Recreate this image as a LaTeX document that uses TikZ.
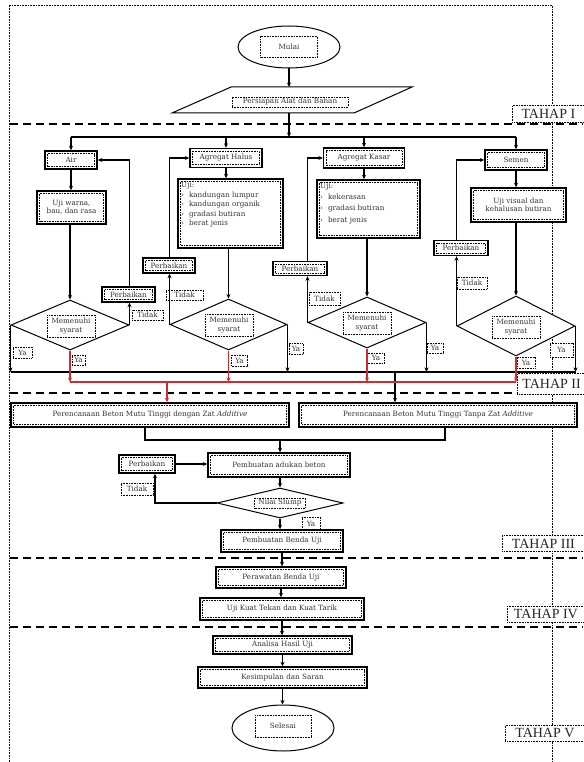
\documentclass[tikz,border=0pt]{standalone}
\usepackage{fontspec}
\setmainfont{Liberation Serif}
\newfontfamily\tf{DejaVu Serif}
\usetikzlibrary{shapes.geometric,arrows.meta,backgrounds}
\definecolor{myred}{RGB}{205,45,45}
\begin{document}
\begin{tikzpicture}[x=1pt,y=-1pt,
  dotl/.style={dash pattern=on 0.8pt off 0.8pt, line width=0.8pt},
  txt/.style={font=\tf\fontsize{7.2}{8.6}\selectfont, text=black!80},
  sz/.style 2 args={minimum width=#1, minimum height=#2},
  proc/.style={draw, line width=1.4pt, fill=white, inner sep=0pt, txt, align=center,
     path picture={\draw[dotl] ([shift={(2.6pt,-2.6pt)}]path picture bounding box.north west) rectangle ([shift={(-2.6pt,2.6pt)}]path picture bounding box.south east);}},
  lbl/.style={draw, dotl, fill=white, inner sep=0pt, txt, align=center},
  dec/.style={diamond, draw, line width=1pt, fill=white, inner sep=0pt},
  term/.style={ellipse, draw, line width=1pt, fill=white, inner sep=0pt},
  tahap/.style={draw, dotl, fill=white, anchor=north west, inner xsep=5pt, inner ysep=0pt, align=left, font=\fontsize{14}{14}\selectfont, text=black!85},
  conn/.style={line width=1.1pt, -{Stealth[length=4.5pt,width=4pt]}},
  wire/.style={line width=1.1pt},
  sepline/.style={line width=1.6pt, dash pattern=on 8pt off 5pt},
]
\useasboundingbox (0,0) rectangle (583,762);

% ---------- terminals and input ----------
\node[term, sz={102}{42}] (mulai) at (289,47) {};
\node[lbl, sz={57}{21}] (mulaiT) at (289,47) {Mulai};

\coordinate (pTL) at (231,87);
\coordinate (pTR) at (412,87);
\coordinate (pBR) at (354,113);
\coordinate (pBL) at (172,113);
\draw[line width=1pt, fill=white] (pTL) -- (pTR) -- (pBR) -- (pBL) -- cycle;
\node[lbl, sz={116}{10}] (bahan) at (290,102) {Persiapan Alat dan Bahan};
\coordinate (ptop) at (289,87);
\coordinate (pbot) at (289,113);

% ---------- stage II material boxes ----------
\node[proc, sz={52}{18}] (air) at (71,160) {Air};
\node[proc, sz={72}{19}] (halus) at (226,158) {Agregat Halus};
\node[proc, sz={81}{20}] (kasar) at (364,158) {Agregat Kasar};
\node[proc, sz={62}{20}] (semen) at (516,160) {Semen};

\node[proc, sz={69}{33}] (ujiair) at (71.5,207.5) {Uji warna,\\bau, dan rasa};
\node[proc, sz={105}{69}] (lhalus) at (230.5,213.5) {};
\node[txt, anchor=north west, inner sep=0pt] (lhalusT) at (181,181)
  {\fontsize{7.2}{9.5}\selectfont\begin{tabular}{@{}l@{\hspace{5pt}}l@{}}\multicolumn{2}{@{}l@{}}{Uji:}\\ › & kandungan lumpur\\ › & kandungan organik\\ › & gradasi butiran\\ › & berat jenis\end{tabular}};
\node[proc, sz={103}{58}] (lkasar) at (368.5,209) {};
\node[txt, anchor=north west, inner sep=0pt] (lkasarT) at (320,180)
  {\fontsize{7.2}{11.3}\selectfont\begin{tabular}{@{}l@{\hspace{5pt}}l@{}}\multicolumn{2}{@{}l@{}}{Uji:}\\ › & kekerasan\\ › & gradasi butiran\\ › & berat jenis\end{tabular}};
\node[proc, sz={95}{34}] (usemen) at (518.5,205) {Uji visual dan\\kehalusan butiran};

% decisions
\node[dec, sz={118}{50}] (dair) at (70,325) {};
\node[dec, sz={117}{51}] (dhalus) at (228.5,324.5) {};
\node[dec, sz={118}{51}] (dkasar) at (367,322.5) {};
\node[dec, sz={118}{60}] (dsemen) at (516,326) {};
\node[lbl, sz={48}{22}] (dairT) at (71,326) {Memenuhi\\syarat};
\node[lbl, sz={48}{22}] (dhalusT) at (229,325) {Memenuhi\\syarat};
\node[lbl, sz={48}{22}] (dkasarT) at (367,323) {Memenuhi\\syarat};
\node[lbl, sz={48}{22}] (dsemenT) at (516,327) {Memenuhi\\syarat};

% repair boxes
\node[proc, sz={53}{15}] (pair) at (128.5,294.5) {Perbaikan};
\node[proc, sz={52}{15}] (phalus) at (169,265.5) {Perbaikan};
\node[proc, sz={54}{14}] (pkasar) at (300,268.5) {Perbaikan};
\node[proc, sz={54}{15}] (psemen) at (461,248) {Perbaikan};

% Tidak / Ya labels
\node[lbl, sz={31}{10}] (tair) at (147.5,315) {Tidak};
\node[lbl, sz={37}{10}] (thalus) at (184.5,295) {Tidak};
\node[lbl, sz={31}{13}] (tkasar) at (324.5,298.5) {Tidak};
\node[lbl, sz={30}{12}] (tsemen) at (472,283) {Tidak};
\node[lbl, sz={19}{11}] (yair1) at (22.5,352.5) {Ya};
\node[lbl, sz={13}{10}] (yair2) at (78.5,360) {Ya};
\node[lbl, sz={14}{11}] (yhalus1) at (296,349) {Ya};
\node[lbl, sz={16}{11}] (yhalus2) at (239.5,360.5) {Ya};
\node[lbl, sz={16}{10}] (ykasar1) at (435,348) {Ya};
\node[lbl, sz={17}{10}] (ykasar2) at (376,358) {Ya};
\node[lbl, sz={23}{14}] (ysemen1) at (561.5,350) {Ya};
\node[lbl, sz={18}{11}] (ysemen2) at (526,362.5) {Ya};

% ---------- stage III ----------
\node[proc, sz={278}{24}] (dengan) at (150,415) {Perencanaan Beton Mutu Tinggi dengan Zat \textit{Additive}};
\node[proc, sz={278}{24}] (tanpa) at (438,415) {Perencanaan Beton Mutu Tinggi Tanpa Zat \textit{Additive}};
\node[proc, sz={142}{24}] (adukan) at (279,465) {Pembuatan adukan beton};
\node[proc, sz={56}{18}] (padukan) at (147,464) {Perbaikan};
\node[dec, sz={126}{30}] (slump) at (280,503) {};
\node[lbl, sz={51}{10}] (slumpT) at (280,503) {Nilai Slump};
\node[lbl, sz={32}{12}] (tslump) at (137,489) {Tidak};
\node[lbl, sz={18}{13}] (yslump) at (311,523.5) {Ya};
\node[proc, sz={122}{22}] (benda) at (282,541) {Pembuatan Benda Uji};

% ---------- stage IV / V ----------
\node[proc, sz={130}{21}] (rawat) at (281,577.5) {Perawatan Benda Uji};
\node[proc, sz={164}{22}] (kuat) at (282,609) {Uji Kuat Tekan dan Kuat Tarik};
\node[proc, sz={139}{18}] (analisa) at (282.5,645) {Analisa Hasil Uji};
\node[proc, sz={169}{21}] (kesim) at (282.5,677.5) {Kesimpulan dan Saran};
\node[term, sz={102}{46}] (selesai) at (283,728) {};
\node[lbl, sz={56}{22}] (selesaiT) at (283,726) {Selesai};

% ---------- stage labels ----------
\node[tahap, sz={72}{17}] (t1) at (512,105) {TAHAP I};
\node[tahap, sz={67}{21}] (t2) at (517,373) {TAHAP II};
\node[tahap, sz={82}{16}] (t3) at (502,535) {TAHAP III};
\node[tahap, sz={77}{16}] (t4) at (507,606) {TAHAP IV};
\node[tahap, sz={79}{16}] (t5) at (505,725) {TAHAP V};

% ---------- connectors ----------
\draw[conn] (mulai.south) -- (ptop);
\coordinate (br) at (289,137);
\coordinate (brA) at (71,137);
\coordinate (brS) at (516,137);
\draw[conn] (pbot) -- (br);
\draw[wire] (brA) -- (brS);
\draw[conn] (brA) -- (air.north);
\draw[conn] (halus.north |- br) -- (halus.north);
\draw[conn] (kasar.north |- br) -- (kasar.north);
\draw[conn] (brS) -- (semen.north);

\draw[conn] (air.south) -- (air.south |- ujiair.north);
\draw[conn] (halus.south) -- (halus.south |- lhalus.north);
\draw[conn] (kasar.south) -- (kasar.south |- lkasar.north);
\draw[conn] (semen.south) -- (semen.south |- usemen.north);

\draw[conn] (dair.north |- ujiair.south) -- (dair.north);
\draw[conn] (dhalus.north |- lhalus.south) -- (dhalus.north);
\draw[conn] (dkasar.north |- lkasar.south) -- (dkasar.north);
\draw[conn] (dsemen.north |- usemen.south) -- (dsemen.north);

% Tidak loops
\draw[conn] (dair.east) -- (dair.east |- pair.south);
\draw[conn] (dair.east |- pair.north) |- (air.east);
\draw[conn] (dhalus.west) -- (dhalus.west |- phalus.south);
\draw[conn] (dhalus.west |- phalus.north) |- (halus.west);
\draw[conn] (dkasar.west) -- (dkasar.west |- pkasar.south);
\draw[conn] (dkasar.west |- pkasar.north) |- (kasar.west);
\draw[conn] (dsemen.west) -- (dsemen.west |- psemen.south);
\draw[conn] (dsemen.west |- psemen.north) |- (semen.west);

% black collector (side Ya)
\coordinate (blk) at (0,372);
\coordinate (blkR) at (395,372);
\draw[conn] (dair.west) -- (dair.west |- blk);
\draw[conn] (dhalus.east) -- (dhalus.east |- blk);
\draw[conn] (dkasar.east) -- (dkasar.east |- blk);
\draw[conn] (dsemen.east) -- (dsemen.east |- blk);
\draw[wire] (dair.west |- blk) -- (dsemen.east |- blk);
\draw[conn] (blkR) -- (blkR |- tanpa.north);

% red collector (bottom Ya)
\coordinate (rd) at (0,382);
\coordinate (rdL) at (167,382);
\draw[conn, myred] (dair.south) -- (dair.south |- rd);
\draw[conn, myred] (dhalus.south) -- (dhalus.south |- rd);
\draw[conn, myred] (dkasar.south) -- (dkasar.south |- rd);
\draw[conn, myred] (dsemen.south) -- (dsemen.south |- rd);
\draw[wire, myred] (dair.south |- rd) -- (dsemen.south |- rd);
\draw[conn, myred] (rdL) -- (rdL |- dengan.north);

% merge
\coordinate (mgL) at (145,440);
\coordinate (mgR) at (445,440);
\coordinate (mg) at (280,440);
\draw[wire] (mgL |- dengan.south) -- (mgL) -- (mgR) -- (mgR |- tanpa.south);
\draw[conn] (mg) -- (mg |- adukan.north);
\draw[conn] (padukan.east) -- (padukan.east -| adukan.west);
\draw[conn] (slump.north |- adukan.south) -- (slump.north);
\coordinate (tk) at (155,503);
\draw[conn] (slump.west) -- (tk) -- (tk |- padukan.south);
\draw[conn] (slump.south) -- (slump.south |- benda.north);
\draw[conn] (benda.south) -- (benda.south |- rawat.north);
\draw[conn] (rawat.south) -- (rawat.south |- kuat.north);
\draw[conn] (kuat.south) -- (kuat.south |- analisa.north);
\draw[conn] (analisa.south) -- (analisa.south |- kesim.north);
\draw[conn] (kesim.south) -- (kesim.south |- selesai.north);

% ---------- background: frame and stage separators ----------
\begin{scope}[on background layer]
  \draw[dotl, line width=0.9pt] (9,770) -- (9,5) -- (552,5) -- (552,770);
  \draw[sepline] (10,124) -- (583,124);
  \draw[sepline] (10,393) -- (583,393);
  \draw[sepline] (10,558) -- (583,558);
  \draw[sepline] (10,627) -- (583,627);
\end{scope}
\end{tikzpicture}
\end{document}
